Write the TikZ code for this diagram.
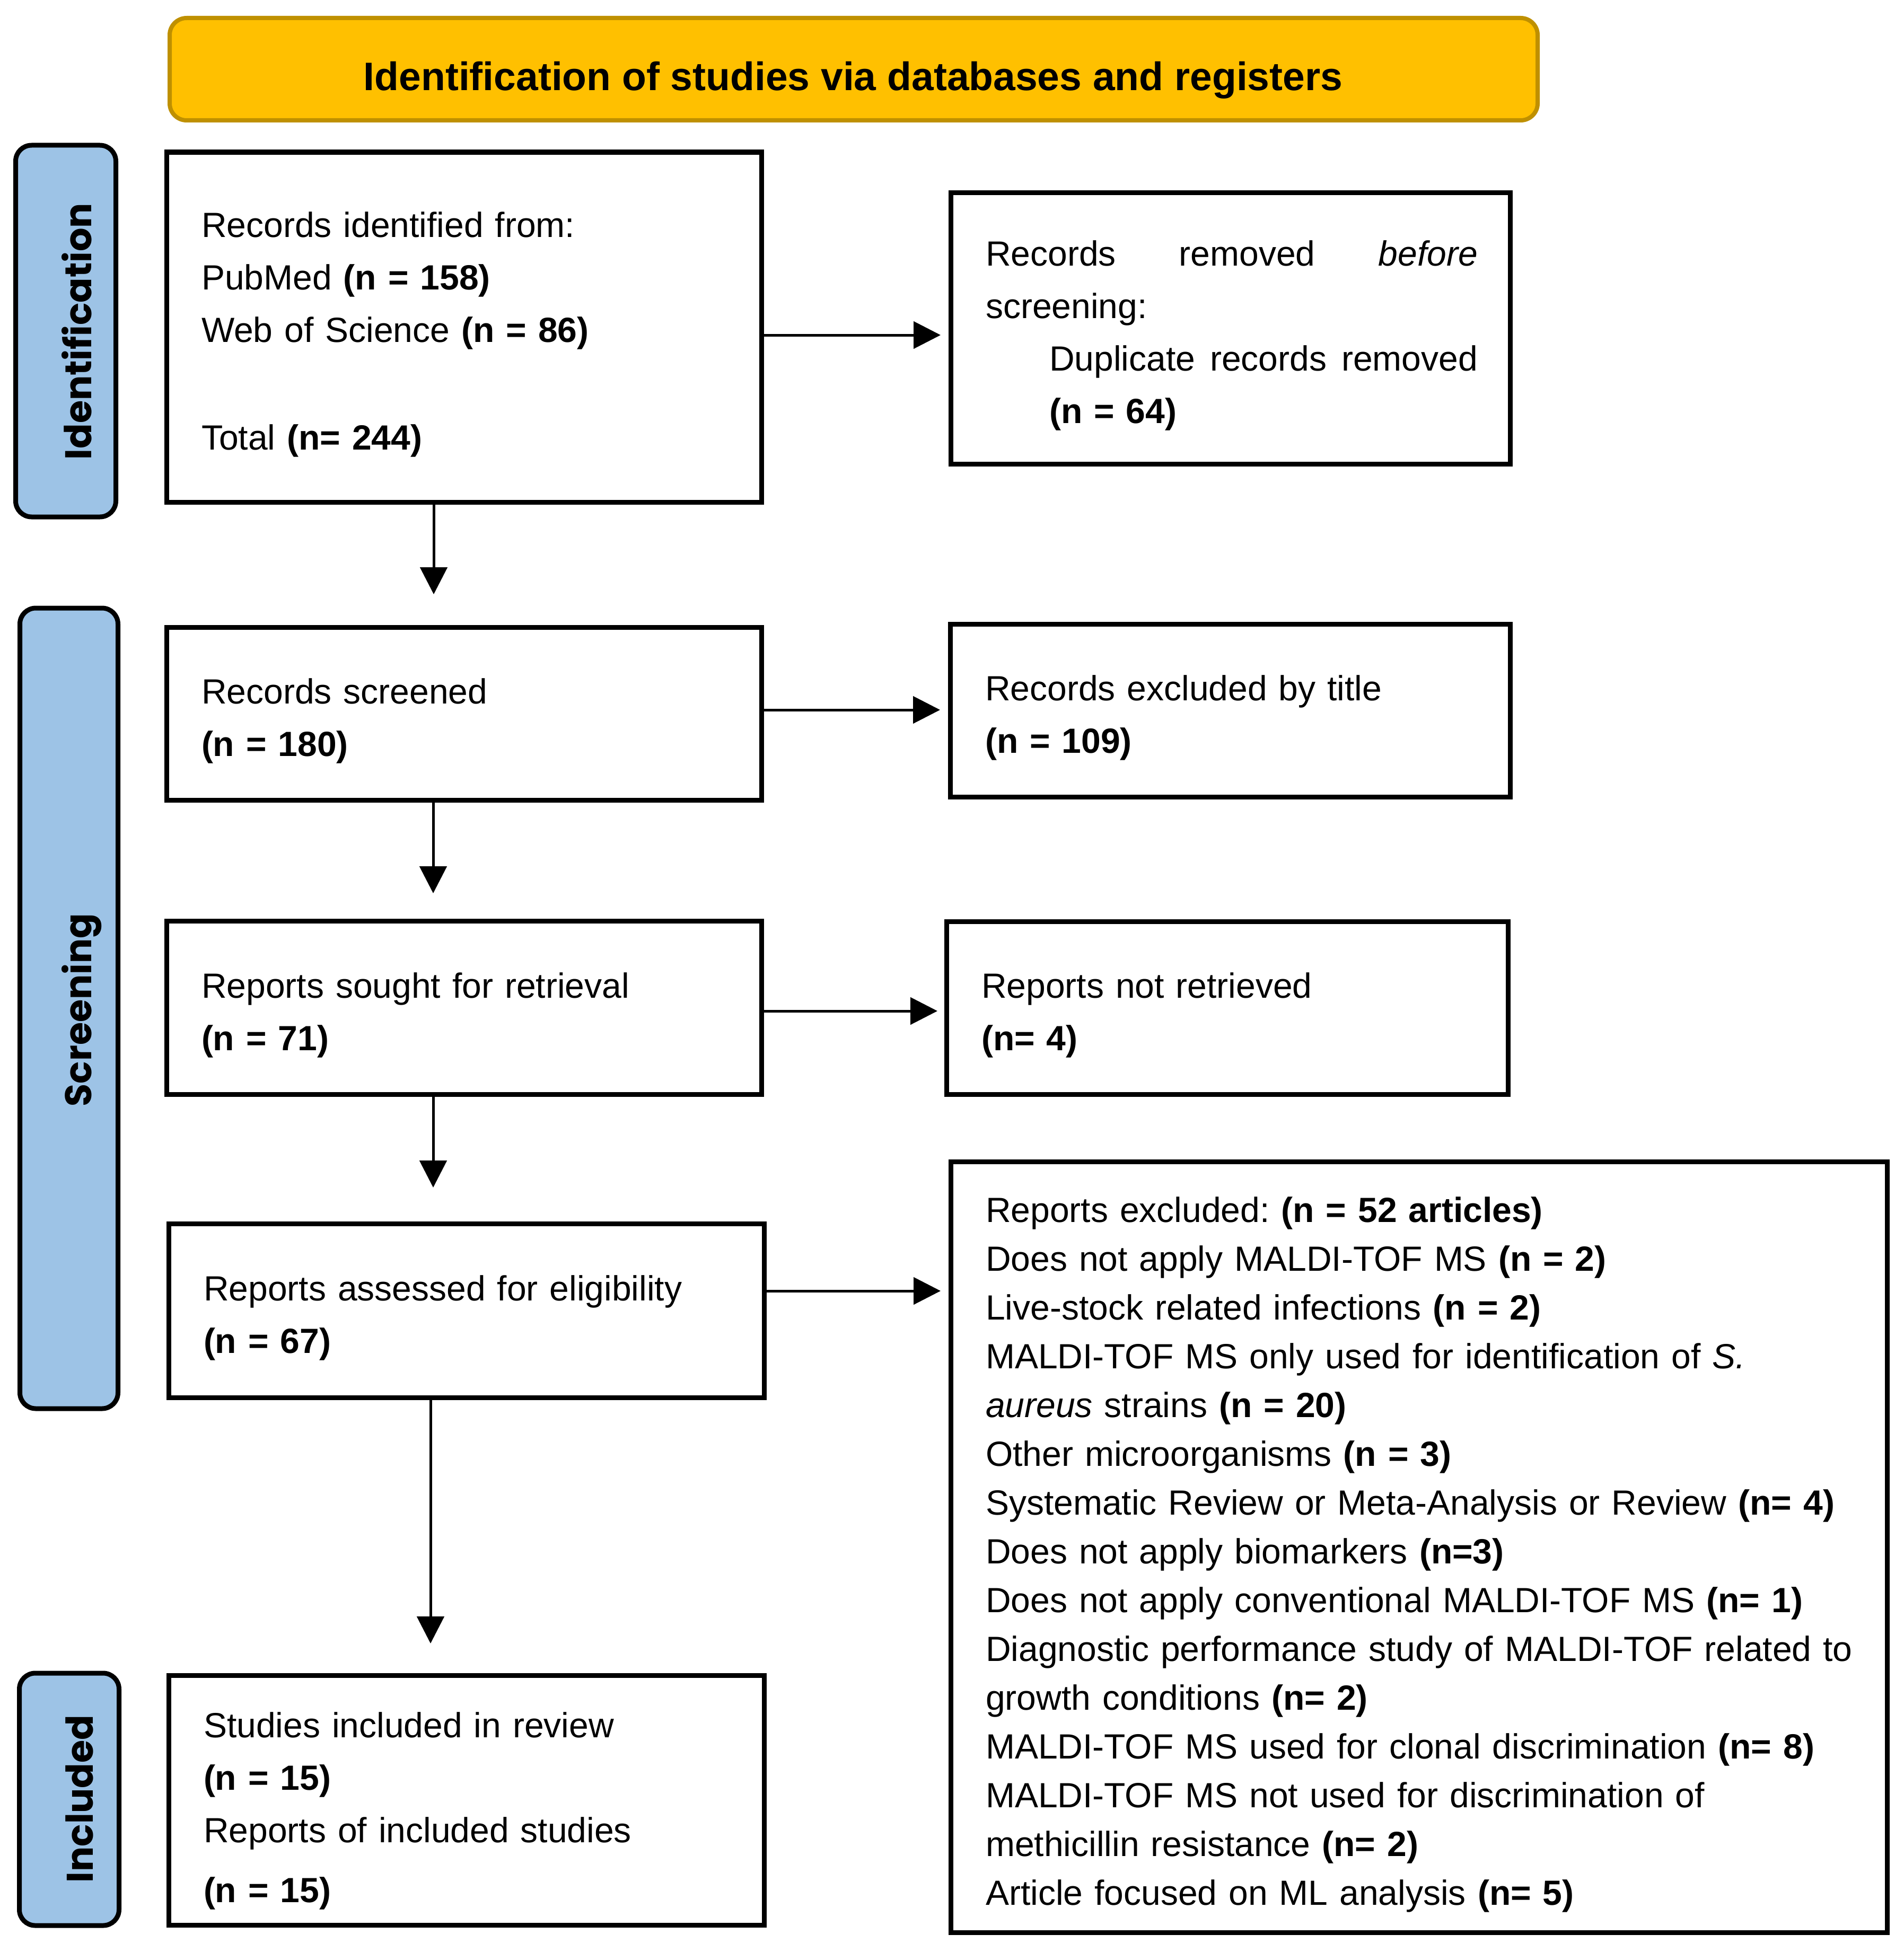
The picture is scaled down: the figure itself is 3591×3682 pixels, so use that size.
\documentclass[tikz,border=0pt]{standalone}
\usepackage{fontspec}
\setmainfont{Liberation Sans}
\newfontfamily\labelfont{Poppins}
\usetikzlibrary{arrows.meta}
\definecolor{bannerfill}{HTML}{FFC000}
\definecolor{bannerline}{HTML}{BF9000}
\definecolor{sideblue}{HTML}{9DC3E6}
\hyphenpenalty=10000\relax
\exhyphenpenalty=10000\relax
\frenchspacing
\newcommand{\boxtop}{\leftskip=5pt\relax\rule{0pt}{76pt}}
\begin{document}
\begin{tikzpicture}[x=1pt,y=-1pt,
  box/.style={draw, line width=9pt, inner xsep=61pt, inner ysep=0pt, align=left,
    font=\fontsize{66}{99}\selectfont\frenchspacing},
  sidebox/.style={draw, line width=9pt, fill=sideblue, rounded corners=30pt, inner sep=0pt},
  sidetext/.style={rotate=90, anchor=base, inner sep=0pt, font=\labelfont\bfseries\fontsize{70}{84}\selectfont},
  arr/.style={line width=5pt, -{Triangle[length=51pt,width=51pt]}}
]
\useasboundingbox (0,0) rectangle (3591,3682);

% banner
\node[draw=bannerline, fill=bannerfill, line width=8pt, rounded corners=32pt,
      minimum width=2580pt, minimum height=193pt, inner sep=0pt] (banner) at (1610,130.5) {};
\node[anchor=base, inner sep=0pt, font=\fontsize{75}{90}\selectfont\bfseries] (title) at (1609,171)
  {Identification of studies via databases and registers};

% side labels
\node[sidebox, minimum width=189pt, minimum height=701pt] (S1) at (124,624.5) {};
\node[sidetext] (S1t) at (172,625) {Identification};
\node[sidebox, minimum width=185pt, minimum height=1510pt] (S2) at (130,1902) {};
\node[sidetext] (S2t) at (172,1905) {Screening};
\node[sidebox, minimum width=188pt, minimum height=476pt] (S3) at (130.5,3394) {};
\node[sidetext] (S3t) at (175,3393) {Included};

% left column
\node[box, minimum width=1122pt, minimum height=660pt, text width=1000pt] (B1) at (875,617)
  {\boxtop Records identified from:\\
   PubMed \textbf{(n = 158)}\\
   Web of Science \textbf{(n = 86)}\\[104pt]
   Total \textbf{(n= 244)}\par};
\node[box, minimum width=1122pt, minimum height=326pt, text width=1000pt] (B2) at (875,1346)
  {\boxtop Records screened\\ \textbf{(n = 180)}\par};
\node[box, minimum width=1122pt, minimum height=327pt, text width=1000pt] (B3) at (875,1900.5)
  {\boxtop Reports sought for retrieval\\ \textbf{(n = 71)}\par};
\node[box, minimum width=1123pt, minimum height=328pt, text width=1001pt] (B4) at (879.5,2472)
  {\boxtop Reports assessed for eligibility\\ \textbf{(n = 67)}\par};
\node[box, minimum width=1123pt, minimum height=471pt, text width=1001pt] (B5) at (879.5,3395.5)
  {\rule{0pt}{88pt}\boxtop Studies included in review\\
   \textbf{(n = 15)}\\
   Reports of included studies\\[14pt]
   \textbf{(n = 15)}\par};

% right column
\node[box, minimum width=1055pt, minimum height=512pt, text width=933pt] (R1) at (2320.5,619)
  {\boxtop Records\hfill removed\hfill \textit{before}\\
   screening:\\
   \hspace*{120pt}Duplicate\hfill records\hfill removed\\
   \hspace*{120pt}\textbf{(n = 64)}\par};
\node[box, minimum width=1056pt, minimum height=326pt, text width=934pt] (R2) at (2320,1340)
  {\boxtop Records excluded by title\\ \textbf{(n = 109)}\par};
\node[box, minimum width=1059pt, minimum height=326pt, text width=937pt] (R3) at (2314.5,1901)
  {\boxtop Reports not retrieved\\ \textbf{(n= 4)}\par};
\node[box, minimum width=1766pt, minimum height=1454pt, text width=1644pt,
      font=\fontsize{66}{92}\selectfont\frenchspacing] (R4) at (2676,2918)
  {\boxtop Reports excluded: \textbf{(n = 52 articles)}\\
   Does not apply MALDI-TOF MS \textbf{(n = 2)}\\
   Live-stock related infections \textbf{(n = 2)}\\
   MALDI-TOF MS only used for identification of \textit{S.}\\
   \textit{aureus} strains \textbf{(n = 20)}\\
   Other microorganisms \textbf{(n = 3)}\\
   Systematic Review or Meta-Analysis or Review \textbf{(n= 4)}\\
   Does not apply biomarkers \textbf{(n=3)}\\
   Does not apply conventional MALDI-TOF MS \textbf{(n= 1)}\\
   Diagnostic performance study of MALDI-TOF related to\\
   growth conditions \textbf{(n= 2)}\\
   MALDI-TOF MS used for clonal discrimination \textbf{(n= 8)}\\
   MALDI-TOF MS not used for discrimination of\\
   methicillin resistance \textbf{(n= 2)}\\
   Article focused on ML analysis \textbf{(n= 5)}\par};

% connector guide coordinates
\coordinate (v1) at (818,0);
\coordinate (v2) at (817,0);
\coordinate (v3) at (817,0);
\coordinate (v4) at (812,0);
\coordinate (h1) at (0,632);
\coordinate (h2) at (0,1339);
\coordinate (h3) at (0,1907);
\coordinate (h4) at (0,2435);

% vertical arrows
\draw[arr, shorten >=57.5pt] (B1.south -| v1) -- (B2.north -| v1);
\draw[arr, shorten >=47.5pt] (B2.south -| v2) -- (B3.north -| v2);
\draw[arr, shorten >=63.5pt] (B3.south -| v3) -- (B4.north -| v3);
\draw[arr, shorten >=55.5pt] (B4.south -| v4) -- (B5.north -| v4);

% horizontal arrows
\draw[arr, shorten >=14.5pt] (B1.east |- h1) -- (R1.west |- h1);
\draw[arr, shorten >=14.5pt] (B2.east |- h2) -- (R2.west |- h2);
\draw[arr, shorten >=12.5pt] (B3.east |- h3) -- (R3.west |- h3);
\draw[arr, shorten >=14.5pt] (B4.east |- h4) -- (R4.west |- h4);
\end{tikzpicture}
\end{document}
